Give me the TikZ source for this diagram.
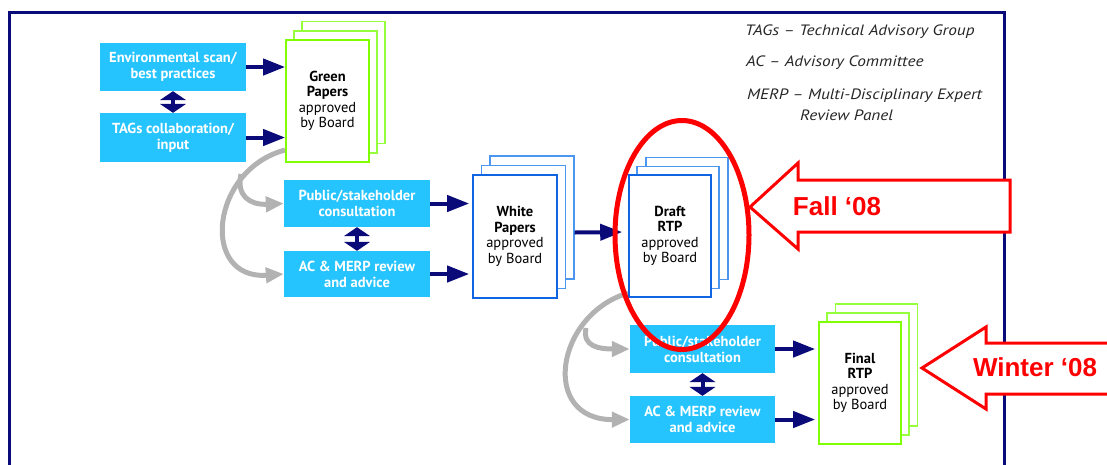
\documentclass[tikz,border=0pt]{standalone}
\usepackage{fontspec}
\setmainfont{PT Sans}
\newfontfamily\legendf{PT Sans}[FakeStretch=1.15]
\newfontfamily\arialf{Liberation Sans}
\usetikzlibrary{arrows.meta,calc}
\definecolor{navy}{RGB}{10,10,120}
\definecolor{cyanbox}{RGB}{38,196,255}
\definecolor{lime}{RGB}{128,255,0}
\definecolor{limeback}{RGB}{150,255,60}
\definecolor{paperblue}{RGB}{15,100,225}
\definecolor{paperback}{RGB}{75,150,240}
\definecolor{arcgray}{RGB}{178,178,178}
\definecolor{hred}{RGB}{255,0,0}
\tikzset{
  box/.style={fill=cyanbox, text=white, inner sep=0pt, minimum width=146pt, minimum height=48pt, align=center, font=\fontsize{14.5}{16}\selectfont\bfseries},
  sheet/.style={fill=white, line width=1.6pt, inner sep=0pt, minimum width=83pt, minimum height=122pt, align=center, font=\fontsize{14.5}{15.5}\selectfont},
  navyarrow/.style={draw=navy, line width=4pt, -{Triangle[length=22pt,width=16pt]}},
  dblarrow/.style={draw=navy, line width=4pt, {Triangle[length=9pt,width=26pt]}-{Triangle[length=9pt,width=26pt]}},
  grayarrow/.style={draw=arcgray, line width=5pt, -{Triangle[length=18pt,width=15pt]}},
  legend/.style={anchor=west, inner sep=0pt, text=black!85, font=\legendf\fontsize{15}{16}\selectfont\itshape},
  callout/.style={draw=hred, line width=3pt, fill=white, line join=miter},
  callouttext/.style={text=hred, inner sep=0pt, font=\arialf\fontsize{26}{28}\selectfont\bfseries}
}
\begin{document}
\begin{tikzpicture}[x=1pt,y=-1pt]
\useasboundingbox (0,0) rectangle (1107,464);
% frame
\draw[navy, line width=3pt] (9,12) rectangle (1004,480);

% left boxes
\node[box] (env) at (173,67) {Environmental scan/\\best practices};
\node[box, minimum height=49pt] (tags) at (173,137.5) {TAGs collaboration/\\input};
% middle boxes
\node[box, minimum height=47pt] (pub) at (357,203.5) {Public/stakeholder\\consultation};
\node[box, minimum height=46pt] (ac) at (357,274) {AC \& MERP review\\and advice};
% bottom boxes
\node[box, minimum width=145pt, minimum height=48pt] (pubb) at (702.5,349) {Public/stakeholder\\consultation};
\node[box, minimum width=145pt, minimum height=47pt] (acb) at (702.5,419.5) {AC \& MERP review\\and advice};

% gray curved arrows (behind sheets)
\coordinate (gs) at (285,150);
\coordinate (gb) at (241,174);
\draw[grayarrow] (gs) .. controls (210,170) and (200,280) .. (ac.west);
\draw[grayarrow] (gb) .. controls (236,196) and (250,205) .. (pub.west);
\coordinate (ds) at (628,293);
\coordinate (db) at (586,328);
\draw[grayarrow] (ds) .. controls (555,315) and (540,420) .. (acb.west);
\draw[grayarrow] (db) .. controls (582,347) and (600,349) .. (pubb.west);

% green papers
\node[sheet, draw=limeback, line width=1.3pt] (gp3) at (343.5,82.5) {};
\node[sheet, draw=limeback, line width=1.3pt] (gp2) at (335.5,92) {};
\node[sheet, draw=lime] (gp) at (327.5,101) {\textbf{Green}\\\textbf{Papers}\\approved\\by Board};
% white papers
\node[sheet, draw=paperback, line width=1.3pt, minimum width=84pt, minimum height=123pt] (wp3) at (532,217.5) {};
\node[sheet, draw=paperback, line width=1.3pt, minimum width=84pt, minimum height=123pt] (wp2) at (523.5,227) {};
\node[sheet, draw=paperblue, minimum width=84pt, minimum height=123pt] (wp) at (515,236.5) {\textbf{White}\\\textbf{Papers}\\approved\\by Board};
% draft RTP
\node[sheet, draw=paperback, line width=1.3pt, minimum width=82pt] (dr3) at (687,218.5) {};
\node[sheet, draw=paperback, line width=1.3pt, minimum width=82pt] (dr2) at (678,227.5) {};
\node[sheet, draw=paperblue, minimum width=82pt] (dr) at (670,236) {\textbf{Draft}\\\textbf{RTP}\\approved\\by Board};
% final RTP
\node[sheet, draw=limeback, line width=1.3pt, minimum width=82pt] (fr3) at (876.5,365) {};
\node[sheet, draw=limeback, line width=1.3pt, minimum width=82pt] (fr2) at (868,374) {};
\node[sheet, draw=lime, minimum width=82pt] (fr) at (860,383) {\textbf{Final}\\\textbf{RTP}\\approved\\by Board};

% navy arrows
\draw[navyarrow] (env.east) -- (env.east -| gp.west);
\draw[navyarrow] (tags.east) -- (tags.east -| gp.west);
\draw[navyarrow, shorten >=3pt] (pub.east) -- (pub.east -| wp.west);
\draw[navyarrow, shorten >=3pt] (ac.east) -- (ac.east -| wp.west);
\draw[navyarrow, shorten >=6pt] ([yshift=4pt]wp3.east |- wp.east) -- ([yshift=4pt]dr.west);
\draw[navyarrow, shorten >=3pt] (pubb.east) -- (pubb.east -| fr.west);
\draw[navyarrow, shorten >=3pt] (acb.east) -- (acb.east -| fr.west);
\draw[dblarrow] (env.south) -- (tags.north);
\draw[dblarrow] (pub.south) -- (ac.north);
\draw[dblarrow] (pubb.south) -- (acb.north);

% legend
\node[legend] (l1) at (745,32) {TAGs – Technical Advisory Group};
\node[legend] (l2) at (746,63) {AC – Advisory Committee};
\node[legend] (l3) at (747,96) {MERP – Multi-Disciplinary Expert};
\node[legend] (l4) at (800,115) {Review Panel};

% red ellipse
\draw[hred, line width=5pt] (682,235) ellipse [x radius=67, y radius=114.5];

% callout arrows
\draw[callout] (750,207) -- (798,163) -- (798,180) -- (1010,180) -- (1010,232) -- (798,232) -- (798,249) -- cycle;
\node[callouttext] (fall) at (837,206) {Fall ‘08};
\draw[callout] (922,368) -- (986,327) -- (986,343) -- (1115,343) -- (1115,394) -- (986,394) -- (986,409) -- cycle;
\node[callouttext] (winter) at (1035,367) {Winter ‘08};
\end{tikzpicture}
\end{document}
